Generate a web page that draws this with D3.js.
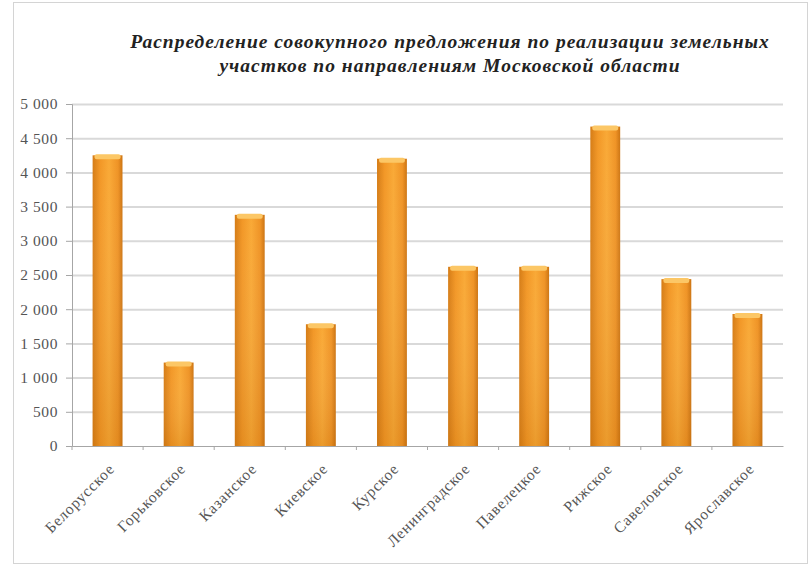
<!DOCTYPE html>
<html>
<head>
<meta charset="utf-8">
<script src="https://cdn.jsdelivr.net/npm/d3@7"></script>
<style>
  body { margin: 0; background: #fff; }
  svg { display: block; }
</style>
</head>
<body>
<div id="chart"></div>
<script>
const width = 812;
const height = 573;
const margin = { top: 104, right: 29, bottom: 127, left: 72 };

const titleLines = [
  "Распределение совокупного предложения по реализации земельных",
  "участков по направлениям Московской области"
];
const directions = ["Белорусское", "Горьковское", "Казанское", "Киевское", "Курское",
  "Ленинградское", "Павелецкое", "Рижское", "Савеловское", "Ярославское"];
const offers = [4250, 1220, 3380, 1780, 4200, 2620, 2620, 4670, 2440, 1930];
const yTicks = [0, 500, 1000, 1500, 2000, 2500, 3000, 3500, 4000, 4500, 5000];

const data = directions.map((d, i) => ({ name: d, value: offers[i] }));
const serif = "'Liberation Serif', 'DejaVu Serif', serif";

const svg = d3.select("#chart").append("svg")
  .attr("width", width)
  .attr("height", height);

// outer frame
svg.append("rect")
  .attr("x", 13.5).attr("y", 2.5)
  .attr("width", 794).attr("height", 561)
  .attr("fill", "#fff")
  .attr("stroke", "#d4d4d4");

const defs = svg.append("defs");
const grad = defs.append("linearGradient")
  .attr("id", "barGrad")
  .attr("x1", "0%").attr("x2", "100%").attr("y1", "0%").attr("y2", "0%");
grad.append("stop").attr("offset", "0%").attr("stop-color", "#d57c16");
grad.append("stop").attr("offset", "25%").attr("stop-color", "#f29726");
grad.append("stop").attr("offset", "55%").attr("stop-color", "#f9a936");
grad.append("stop").attr("offset", "85%").attr("stop-color", "#ef9325");
grad.append("stop").attr("offset", "100%").attr("stop-color", "#cc7412");

const shade = defs.append("linearGradient")
  .attr("id", "barShade")
  .attr("x1", "0%").attr("x2", "0%").attr("y1", "0%").attr("y2", "100%");
shade.append("stop").attr("offset", "0%").attr("stop-color", "#fff").attr("stop-opacity", 0);
shade.append("stop").attr("offset", "100%").attr("stop-color", "#a85a00").attr("stop-opacity", 0.18);

const x = d3.scaleBand()
  .domain(directions)
  .range([margin.left, width - margin.right])
  .paddingInner(0.58)
  .paddingOuter(0.29);

const y = d3.scaleLinear()
  .domain([0, 5000])
  .range([height - margin.bottom, margin.top]);

const fmt = v => d3.format(",")(v).replace(/,/g, " ");

// gridlines
svg.append("g")
  .selectAll("line")
  .data(yTicks.slice(1))
  .join("line")
  .attr("x1", margin.left)
  .attr("x2", width - margin.right)
  .attr("y1", d => y(d) + 0.5)
  .attr("y2", d => y(d) + 0.5)
  .attr("stroke", "#d9d9d9")
  .attr("stroke-width", 2);

// y axis
const yAxis = svg.append("g")
  .attr("transform", `translate(${margin.left},0)`)
  .call(d3.axisLeft(y).tickValues(yTicks).tickFormat(fmt).tickSize(6).tickPadding(8));
yAxis.select(".domain").attr("stroke", "#a6a6a6");
yAxis.selectAll(".tick line").attr("stroke", "#a6a6a6");
yAxis.selectAll("text")
  .attr("fill", "#555")
  .style("font-family", serif)
  .style("font-size", "15.5px")
  .style("letter-spacing", "0.6px");

// bars
const bars = svg.append("g").selectAll("g").data(data).join("g");
bars.append("rect")
  .attr("x", d => x(d.name))
  .attr("y", d => y(d.value))
  .attr("width", x.bandwidth())
  .attr("height", d => y(0) - y(d.value))
  .attr("fill", "url(#barGrad)");
bars.append("rect")
  .attr("x", d => x(d.name))
  .attr("y", d => y(d.value))
  .attr("width", x.bandwidth())
  .attr("height", d => y(0) - y(d.value))
  .attr("fill", "url(#barShade)");
bars.append("rect")
  .attr("x", d => x(d.name) + 2)
  .attr("y", d => y(d.value) - 1)
  .attr("width", x.bandwidth() - 4)
  .attr("height", 5)
  .attr("rx", 2)
  .attr("fill", "#fcc766");

// x axis
const xAxis = svg.append("g")
  .attr("transform", `translate(0,${y(0)})`)
  .call(d3.axisBottom(x).tickSize(0));
xAxis.select(".domain").attr("stroke", "#a6a6a6");
xAxis.selectAll("text")
  .attr("fill", "#555")
  .style("font-family", serif)
  .style("font-size", "15.5px")
  .style("letter-spacing", "0.8px")
  .attr("text-anchor", "end")
  .attr("x", 0)
  .attr("y", 0)
  .attr("dy", "0.35em")
  .attr("transform", "translate(4,20) rotate(-45)");

// boundary ticks between categories on the baseline
svg.append("g")
  .selectAll("line")
  .data(directions)
  .join("line")
  .attr("x1", d => x(d) - x.step() * 0.29)
  .attr("x2", d => x(d) - x.step() * 0.29)
  .attr("y1", y(0))
  .attr("y2", y(0) + 4)
  .attr("stroke", "#a6a6a6");

// title
svg.append("text")
  .attr("x", 450)
  .attr("y", 48)
  .attr("text-anchor", "middle")
  .attr("fill", "#222")
  .style("font-family", serif)
  .style("font-size", "19.5px")
  .style("letter-spacing", "1px")
  .style("font-weight", "bold")
  .style("font-style", "italic")
  .selectAll("tspan")
  .data(titleLines)
  .join("tspan")
  .attr("x", 450)
  .attr("dy", (d, i) => i === 0 ? 0 : 24)
  .text(d => d);
</script>
</body>
</html>
